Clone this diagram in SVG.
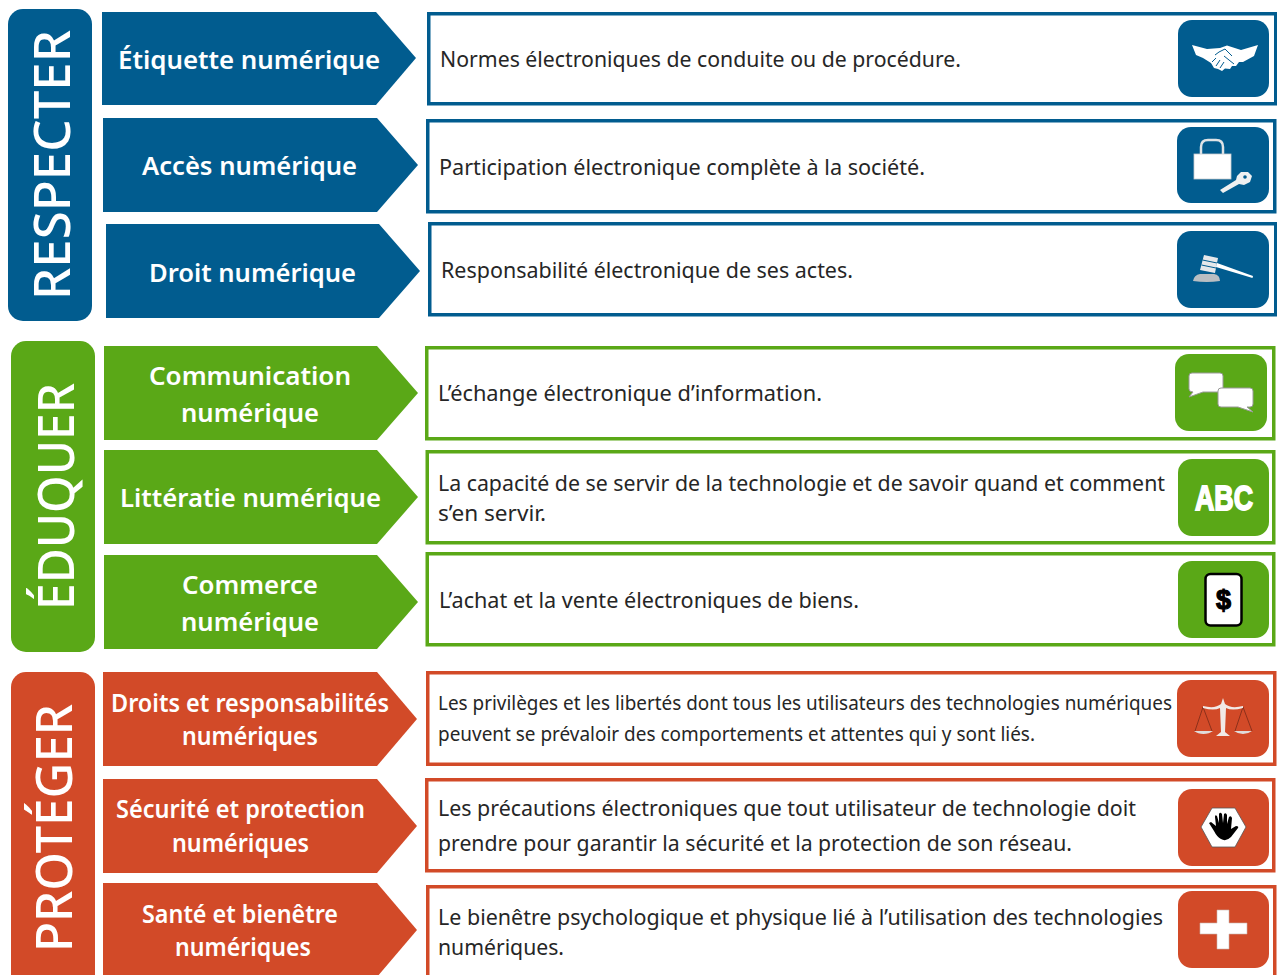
<svg xmlns="http://www.w3.org/2000/svg" width="1277" height="975" viewBox="0 0 1277 975">
<style>
text{font-family:"Noto Sans","Open Sans","Liberation Sans",sans-serif}
.h{font-size:26px;font-weight:600;fill:#fff}
.v{font-size:50px;font-weight:500;fill:#fff}
.d{font-size:22px;fill:#262626}
.s{font-size:19.5px;fill:#262626}
.box{fill:#fff;stroke-width:3.5}
.b{fill:#015c8f}.g{fill:#5aa817}.r{fill:#d24a28}
.sb{stroke:#015c8f}.sg{stroke:#5aa817}.sr{stroke:#d24a28}
.w{fill:#fff}
.edge{fill:#fff;stroke:#9a9a9a;stroke-width:1}
</style>
<g id="connectors"></g>

<g id="respecter">
<rect class="b" x="8" y="9" width="84" height="312" rx="15"/>
<text class="v" transform="translate(70 300) rotate(-90)" textLength="270" lengthAdjust="spacingAndGlyphs">RESPECTER</text>
</g>
<g id="etiquette">
<path class="b" d="M102 12H376L416 58L376 105H102Z"/>
<text class="h" x="118" y="69" textLength="262" lengthAdjust="spacingAndGlyphs">Étiquette numérique</text>
<rect class="box sb" x="428.750" y="13.750" width="847" height="90"/>
<text class="d" x="440" y="67" textLength="521" lengthAdjust="spacingAndGlyphs">Normes électroniques de conduite ou de procédure.</text>
<rect class="b" x="1178" y="20" width="91" height="77" rx="14"/>
<path class="w" d="M1192 45L1207 49L1220 48L1227 45.500L1241 50L1258 45L1254 56L1243 62L1239 62L1236 66L1232 66L1230 69L1225 68.500L1222 71L1218 69L1214 68L1211 63L1203 58L1196 55Z"/>
<path d="M1212 62L1216 58M1216 66L1220 60M1220 68L1224 62M1224 56L1234 64M1219 52L1225 49L1232 56M1215 55L1219 52" fill="none" stroke="#015c8f" stroke-width="1"/>
</g>
<g id="acces">
<path class="b" d="M103 118H377L418 165L377 212H103Z"/>
<text class="h" x="142" y="175" textLength="215" lengthAdjust="spacingAndGlyphs">Accès numérique</text>
<rect class="box sb" x="427.750" y="120.750" width="847" height="91"/>
<text class="d" x="439" y="175" textLength="486" lengthAdjust="spacingAndGlyphs">Participation électronique complète à la société.</text>
<rect class="b" x="1177" y="127" width="92" height="76" rx="14"/>
<path d="M1201 154V147Q1201 140 1208 140H1216Q1223 140 1223 147V154" fill="none" stroke="#dfe3e6" stroke-width="2.500"/>
<rect class="w" x="1194" y="154" width="37" height="25" stroke="#c9ccd0" stroke-width=".8"/>
<path d="M1220 190L1236 180L1237 176L1241 172L1248 172L1252 176L1250 182L1244 185L1239 184L1223 193Z" fill="#eef0f1"/>
<circle class="b" cx="1245" cy="177" r="1.800"/>
</g>
<g id="droit">
<path class="b" d="M106 224H379L420 271L379 318H106Z"/>
<text class="h" x="149" y="282" textLength="207" lengthAdjust="spacingAndGlyphs">Droit numérique</text>
<rect class="box sb" x="429.750" y="223.750" width="846" height="91"/>
<text class="d" x="441" y="278" textLength="412" lengthAdjust="spacingAndGlyphs">Responsabilité électronique de ses actes.</text>
<rect class="b" x="1177" y="231" width="92" height="77" rx="14"/>
<path d="M1204 255L1218 258L1215 273L1200 270Z" fill="#e6e8ea"/>
<path d="M1202.500 260L1217 263M1201.500 265L1216 268" stroke="#015c8f" stroke-width="1"/>
<path class="w" d="M1217 263L1253 276L1252.500 278L1216 267Z"/>
<path d="M1193 281Q1194 275 1200 274H1214Q1220 275 1220 281Q1207 283 1193 281Z" fill="#b9bec2"/>
</g>

<g id="eduquer">
<rect class="g" x="11" y="341" width="84" height="311" rx="15"/>
<text class="v" transform="translate(74 610) rotate(-90)" textLength="227" lengthAdjust="spacingAndGlyphs">ÉDUQUER</text>
</g>
<g id="communication">
<path class="g" d="M104 346H377L418 393L377 440H104Z"/>
<text class="h" x="149" y="385" textLength="202" lengthAdjust="spacingAndGlyphs">Communication</text>
<text class="h" x="181" y="422" textLength="138" lengthAdjust="spacingAndGlyphs">numérique</text>
<rect class="box sg" x="426.750" y="347.750" width="847" height="91"/>
<text class="d" x="438" y="401" textLength="384" lengthAdjust="spacingAndGlyphs">L’échange électronique d’information.</text>
<rect class="g" x="1175" y="354" width="92" height="77" rx="14"/>
<path class="edge" d="M1192 373H1220Q1223 373 1223 376V389Q1223 392 1220 392H1203L1189 397L1193 392Q1189 392 1189 389V376Q1189 373 1192 373Z"/>
<path class="edge" d="M1221 388H1250Q1253 388 1253 391V404Q1253 407 1250 407H1247L1253 412L1238 407H1221Q1218 407 1218 404V391Q1218 388 1221 388Z"/>
</g>
<g id="litteratie">
<path class="g" d="M104 450H377L418 497L377 544H104Z"/>
<text class="h" x="120" y="507" textLength="261" lengthAdjust="spacingAndGlyphs">Littératie numérique</text>
<rect class="box sg" x="427.250" y="451.750" width="846.500" height="91"/>
<text class="d" x="438" y="491" textLength="727" lengthAdjust="spacingAndGlyphs">La capacité de se servir de la technologie et de savoir quand et comment</text>
<text class="d" x="438" y="521" textLength="108" lengthAdjust="spacingAndGlyphs">s’en servir.</text>
<rect class="g" x="1178" y="459" width="91" height="77" rx="14"/>
<text x="1195" y="510" font-size="35" font-weight="700" fill="#fff" stroke="#fff" stroke-width="1.800" style="font-family:'Liberation Sans',sans-serif" textLength="58" lengthAdjust="spacingAndGlyphs">ABC</text>
</g>
<g id="commerce">
<path class="g" d="M104 555H377L418 602L377 649H104Z"/>
<text class="h" x="182" y="594" textLength="136" lengthAdjust="spacingAndGlyphs">Commerce</text>
<text class="h" x="181" y="631" textLength="138" lengthAdjust="spacingAndGlyphs">numérique</text>
<rect class="box sg" x="427.250" y="553.750" width="846.500" height="91"/>
<text class="d" x="439" y="608" textLength="420" lengthAdjust="spacingAndGlyphs">L’achat et la vente électroniques de biens.</text>
<rect class="g" x="1178" y="561" width="91" height="77" rx="14"/>
<rect x="1205.500" y="574" width="36" height="51.500" rx="5" fill="#fff" stroke="#000" stroke-width="2.500"/>
<text x="1223.500" y="609" font-size="27" font-weight="700" fill="#000" text-anchor="middle" stroke="#000" stroke-width="1.200" style="font-family:'Liberation Sans',sans-serif">$</text>
</g>

<g id="proteger">
<rect class="r" x="11" y="672" width="84" height="320" rx="15"/>
<text class="v" transform="translate(72 952) rotate(-90)" textLength="248" lengthAdjust="spacingAndGlyphs">PROTÉGER</text>
</g>
<g id="droits">
<path class="r" d="M103 672H377L417 719L377 766H103Z"/>
<text class="h" x="111" y="712" textLength="278" lengthAdjust="spacingAndGlyphs">Droits et responsabilités</text>
<text class="h" x="182" y="745" textLength="136" lengthAdjust="spacingAndGlyphs">numériques</text>
<rect class="box sr" x="427.750" y="672.750" width="847" height="91.500"/>
<text class="s" x="438" y="710" textLength="734" lengthAdjust="spacingAndGlyphs">Les privilèges et les libertés dont tous les utilisateurs des technologies numériques</text>
<text class="s" x="438" y="741" textLength="597" lengthAdjust="spacingAndGlyphs">peuvent se prévaloir des comportements et attentes qui y sont liés.</text>
<rect class="r" x="1177" y="680" width="92" height="77" rx="14"/>
<path d="M1203 707L1195 731M1203 707L1212 731M1243 707L1235 731M1243 707L1252 731" stroke="#7a2a16" stroke-width=".8" fill="none"/>
<path d="M1203 706Q1215 709 1221 704L1223 698L1225 704Q1231 709 1243 706L1243 708Q1232 711 1226 708L1225 732L1230 736H1216L1221 732L1220 708Q1214 711 1203 708Z" fill="#f1e9e6"/>
<path d="M1194 731H1213Q1209 734 1203.500 734Q1198 734 1194 731ZM1234 731H1252Q1248 734 1243 734Q1238 734 1234 731Z" fill="#e0dcda"/>
</g>
<g id="securite">
<path class="r" d="M103 779H377L417 826L377 873H103Z"/>
<text class="h" x="116" y="818" textLength="249" lengthAdjust="spacingAndGlyphs">Sécurité et protection</text>
<text class="h" x="172" y="852" textLength="137" lengthAdjust="spacingAndGlyphs">numériques</text>
<rect class="box sr" x="426.750" y="779.750" width="847" height="91"/>
<text class="d" x="438" y="816" textLength="698" lengthAdjust="spacingAndGlyphs">Les précautions électroniques que tout utilisateur de technologie doit</text>
<text class="d" x="438" y="851" textLength="634" lengthAdjust="spacingAndGlyphs">prendre pour garantir la sécurité et la protection de son réseau.</text>
<rect class="r" x="1178" y="789" width="91" height="77" rx="14"/>
<path d="M1201 827L1212 808H1235L1246 827L1235 847H1212Z" fill="#fff" stroke="#555" stroke-width=".8"/>
<path fill="#000" d="M1209 823L1211 822L1216 826L1215 817Q1215 814 1217 816L1219 823L1219 814Q1220 811.500 1222 814L1223 823L1224 814Q1226 812 1227 815L1227 824L1229 817Q1231 815 1232 818L1231 829L1236 826Q1239 826 1238 828L1231 837Q1226 842 1221 839Q1217 837 1214 831Z"/>
</g>
<g id="sante">
<path class="r" d="M103 883H377L417 930L377 977H103Z"/>
<text class="h" x="142" y="923" textLength="196" lengthAdjust="spacingAndGlyphs">Santé et bienêtre</text>
<text class="h" x="175" y="956" textLength="136" lengthAdjust="spacingAndGlyphs">numériques</text>
<rect class="box sr" x="427.750" y="886.750" width="847" height="100"/>
<text class="d" x="438" y="925" textLength="725" lengthAdjust="spacingAndGlyphs">Le bienêtre psychologique et physique lié à l’utilisation des technologies</text>
<text class="d" x="438" y="955" textLength="126" lengthAdjust="spacingAndGlyphs">numériques.</text>
<rect class="r" x="1178" y="891" width="91" height="77" rx="14"/>
<path d="M1217 910H1229V923H1247V934H1229V949H1217V934H1200V923H1217Z" fill="#fff" stroke="#c9b5ae" stroke-width=".6"/>
</g>
</svg>
